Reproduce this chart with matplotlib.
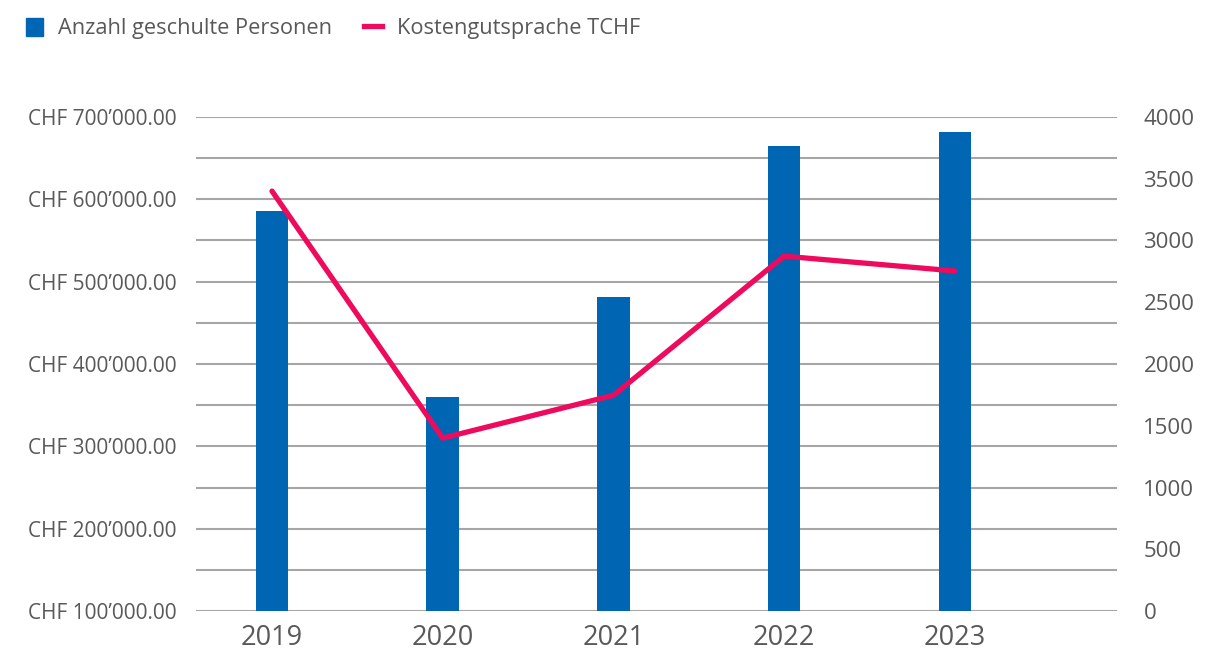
import numpy as np
import matplotlib.pyplot as plt
from matplotlib.patches import Patch
from matplotlib.lines import Line2D
from matplotlib.ticker import FuncFormatter

plt.rcParams['font.family'] = ['Open Sans', 'DejaVu Sans']

jahre = ['2019', '2020', '2021', '2022', '2023']
personen = [3240, 1730, 2540, 3765, 3880]
kosten = [610000, 310000, 362000, 531000, 513000]

blau = '#0066b3'
pink = '#ee0a5c'
grau_text = '#595959'
grau_linie = '#a6a6a6'

fig = plt.figure(figsize=(12.29, 6.58), dpi=100)
ax = fig.add_axes([0.1595, 0.0714, 0.7494, 0.7508])
ax2 = ax.twinx()
x = np.arange(len(jahre))

# Balken: rechte Achse (Anzahl)
ax.bar(x, personen, width=0.19, color=blau, zorder=3)
ax.set_ylim(0, 4000)
ax.set_yticks(np.arange(0, 4001, 500))
ax.set_yticks(np.linspace(0, 4000, 13), minor=True)
ax.yaxis.remove_overlapping_locs = False
ax.yaxis.tick_right()
ax.grid(which='minor', axis='y', color=grau_linie, linewidth=1.5, zorder=0)
ax.tick_params(axis='y', which='both', length=0, pad=19, labelsize=16, labelcolor=grau_text)
ax.set_xlim(-0.445, 4.95)
ax.set_xticks(x)
ax.set_xticklabels(jahre)
ax.tick_params(axis='x', length=0, pad=9, labelsize=19.5, labelcolor=grau_text)
for s in ax.spines.values():
    s.set_visible(False)

# Linie: linke Achse (CHF)
ax2.plot(x, kosten, color=pink, linewidth=3.8, solid_capstyle='round', zorder=4)
ax2.set_ylim(100000, 700000)
ax2.set_yticks(np.arange(100000, 700001, 100000))
ax2.yaxis.tick_left()
ax2.yaxis.set_major_formatter(FuncFormatter(
    lambda v, p: 'CHF ' + f'{v:,.2f}'.replace(',', '\u2019')))
ax2.tick_params(axis='y', length=0, pad=14, labelsize=15, labelcolor=grau_text)
for s in ax2.spines.values():
    s.set_visible(False)

handles = [Patch(color=blau, label='Anzahl geschulte Personen'),
           Line2D([], [], color=pink, linewidth=3.8, label='Kostengutsprache TCHF')]
fig.legend(handles=handles, loc='upper left', bbox_to_anchor=(0.005, 1.003), ncol=2,
           frameon=False, fontsize=15.7, labelcolor=grau_text, handlelength=0.8,
           handleheight=0.9, handletextpad=0.7, columnspacing=1.45)

fig.savefig('out.png', dpi=100)
